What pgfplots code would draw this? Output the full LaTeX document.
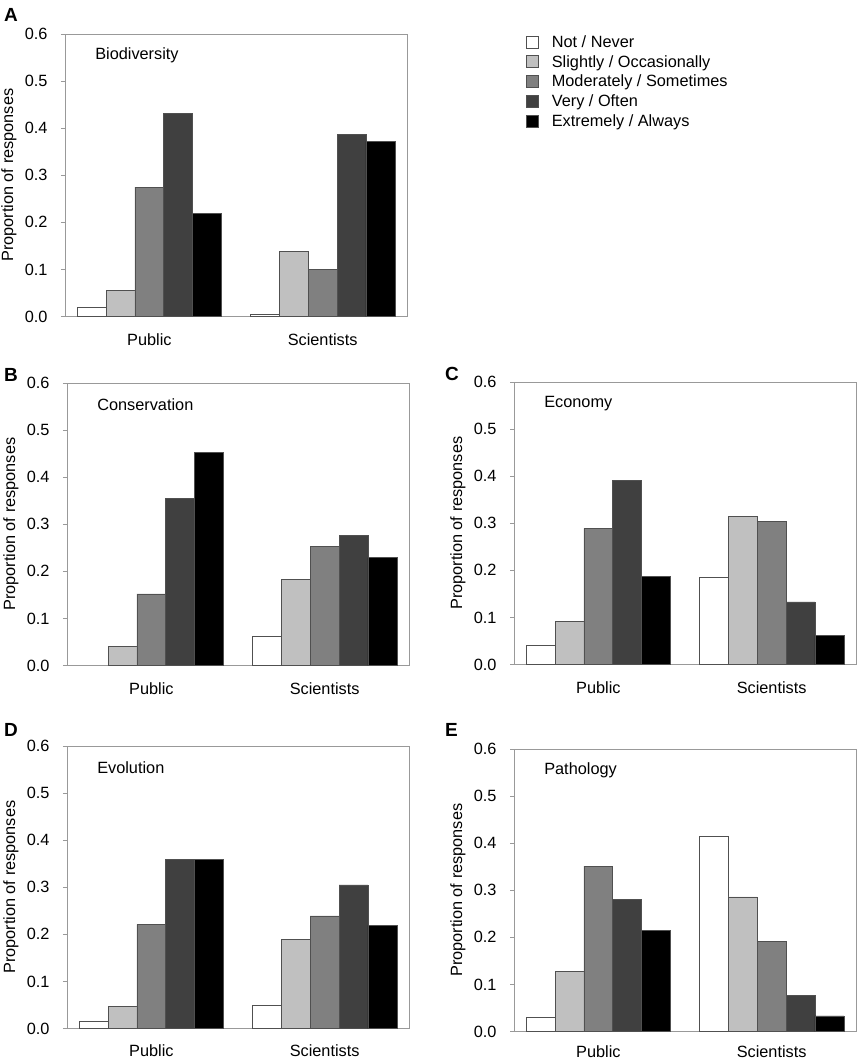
\documentclass[border=0pt]{standalone}
\usepackage{fontspec}
\setmainfont{Liberation Sans}
\usepackage{pgfplots}
\pgfplotsset{compat=1.18}
\definecolor{c1}{HTML}{FFFFFF}
\definecolor{c2}{HTML}{C0C0C0}
\definecolor{c3}{HTML}{808080}
\definecolor{c4}{HTML}{404040}
\definecolor{c5}{HTML}{000000}
\definecolor{edge}{HTML}{505050}
\definecolor{frame}{HTML}{999999}
\newcommand{\fs}{\fontsize{16.3}{19}\selectfont}
\pgfplotsset{
 panel/.style={
  scale only axis, width=342pt, height=282.5pt,
  xmin=0.08, xmax=11.92, ymin=0, ymax=0.6,
  ytick={0,0.1,0.2,0.3,0.4,0.5,0.6},
  ytick pos=left,
  yticklabel style={xshift=-10pt, /pgf/number format/fixed, /pgf/number format/fixed zerofill, /pgf/number format/precision=1, /pgf/number format/assume math mode=true},
  xtick={3,9}, xticklabels={Public,Scientists},
  xticklabel style={yshift=-10pt},
  x tick style={draw=none},
  y tick style={draw=frame, line width=0.8pt},
  tick align=outside, major tick length=4pt,
  axis line style={draw=frame, line width=0.9pt},
  tick label style={font=\fs},
  label style={font=\fs},
  ylabel={Proportion of responses},
  ylabel style={at={(axis description cs:-0.164,0.5)}, anchor=center},
  anchor=north west,
 },
 b1/.style={ybar, bar width=1, fill=c1, draw=edge, line width=0.7pt},
 b2/.style={ybar, bar width=1, fill=c2, draw=edge, line width=0.7pt},
 b3/.style={ybar, bar width=1, fill=c3, draw=edge, line width=0.7pt},
 b4/.style={ybar, bar width=1, fill=c4, draw=edge, line width=0.7pt},
 b5/.style={ybar, bar width=1, fill=c5, draw=edge, line width=0.7pt},
}
\newcommand{\ttl}[1]{\node[anchor=west, font=\fs, inner sep=0pt] at (rel axis cs:0.088,0.925) {#1};}
\begin{document}
\begin{tikzpicture}
\useasboundingbox (0,-1061pt) rectangle (858pt,0pt);
% A
\begin{axis}[panel, at={(65pt,-34pt)},
  legend style={at={(rel axis cs:1.339,1.003)}, anchor=north west, draw=none, fill=none, font=\fs,
    nodes={inner ysep=0pt, inner xsep=4pt, text height=12pt, text depth=3.5pt}, row sep=4.2pt},
  legend cell align=left,
  legend image code/.code={\draw[draw=edge, line width=0.7pt, #1] (0pt,-5pt) rectangle (12pt,7pt); \path (21pt,0pt);},
]
\addplot[b1] coordinates {(1,0.020) (7,0.005)};
\addplot[b2] coordinates {(2,0.056) (8,0.139)};
\addplot[b3] coordinates {(3,0.275) (9,0.100)};
\addplot[b4] coordinates {(4,0.432) (10,0.386)};
\addplot[b5] coordinates {(5,0.219) (11,0.372)};
\legend{Not / Never, Slightly / Occasionally, Moderately / Sometimes, Very / Often, Extremely / Always}
\ttl{Biodiversity}
\end{axis}
% B
\begin{axis}[panel, at={(67pt,-383pt)}]
\addplot[b1] coordinates {(7,0.062)};
\addplot[b2] coordinates {(2,0.041) (8,0.182)};
\addplot[b3] coordinates {(3,0.152) (9,0.253)};
\addplot[b4] coordinates {(4,0.355) (10,0.276)};
\addplot[b5] coordinates {(5,0.452) (11,0.229)};
\ttl{Conservation}
\end{axis}
% C
\begin{axis}[panel, at={(514pt,-382pt)}]
\addplot[b1] coordinates {(1,0.040) (7,0.185)};
\addplot[b2] coordinates {(2,0.091) (8,0.315)};
\addplot[b3] coordinates {(3,0.289) (9,0.304)};
\addplot[b4] coordinates {(4,0.391) (10,0.133)};
\addplot[b5] coordinates {(5,0.187) (11,0.062)};
\ttl{Economy}
\end{axis}
% D
\begin{axis}[panel, at={(67pt,-746pt)}, xticklabel style={yshift=1pt}]
\addplot[b1] coordinates {(1,0.016) (7,0.049)};
\addplot[b2] coordinates {(2,0.047) (8,0.190)};
\addplot[b3] coordinates {(3,0.221) (9,0.239)};
\addplot[b4] coordinates {(4,0.359) (10,0.305)};
\addplot[b5] coordinates {(5,0.359) (11,0.219)};
\ttl{Evolution}
\end{axis}
% E
\begin{axis}[panel, at={(514pt,-749pt)}, xticklabel style={yshift=3pt}]
\addplot[b1] coordinates {(1,0.030) (7,0.415)};
\addplot[b2] coordinates {(2,0.127) (8,0.286)};
\addplot[b3] coordinates {(3,0.351) (9,0.191)};
\addplot[b4] coordinates {(4,0.280) (10,0.076)};
\addplot[b5] coordinates {(5,0.214) (11,0.033)};
\ttl{Pathology}
\end{axis}
\begin{scope}[every node/.style={anchor=north west, inner sep=0pt, font=\fontsize{19}{22}\selectfont\bfseries}]
\node at (4pt,-8pt) {A};
\node at (4pt,-368pt) {B};
\node at (445pt,-367pt) {C};
\node at (4pt,-723pt) {D};
\node at (445pt,-723pt) {E};
\end{scope}
\end{tikzpicture}
\end{document}
